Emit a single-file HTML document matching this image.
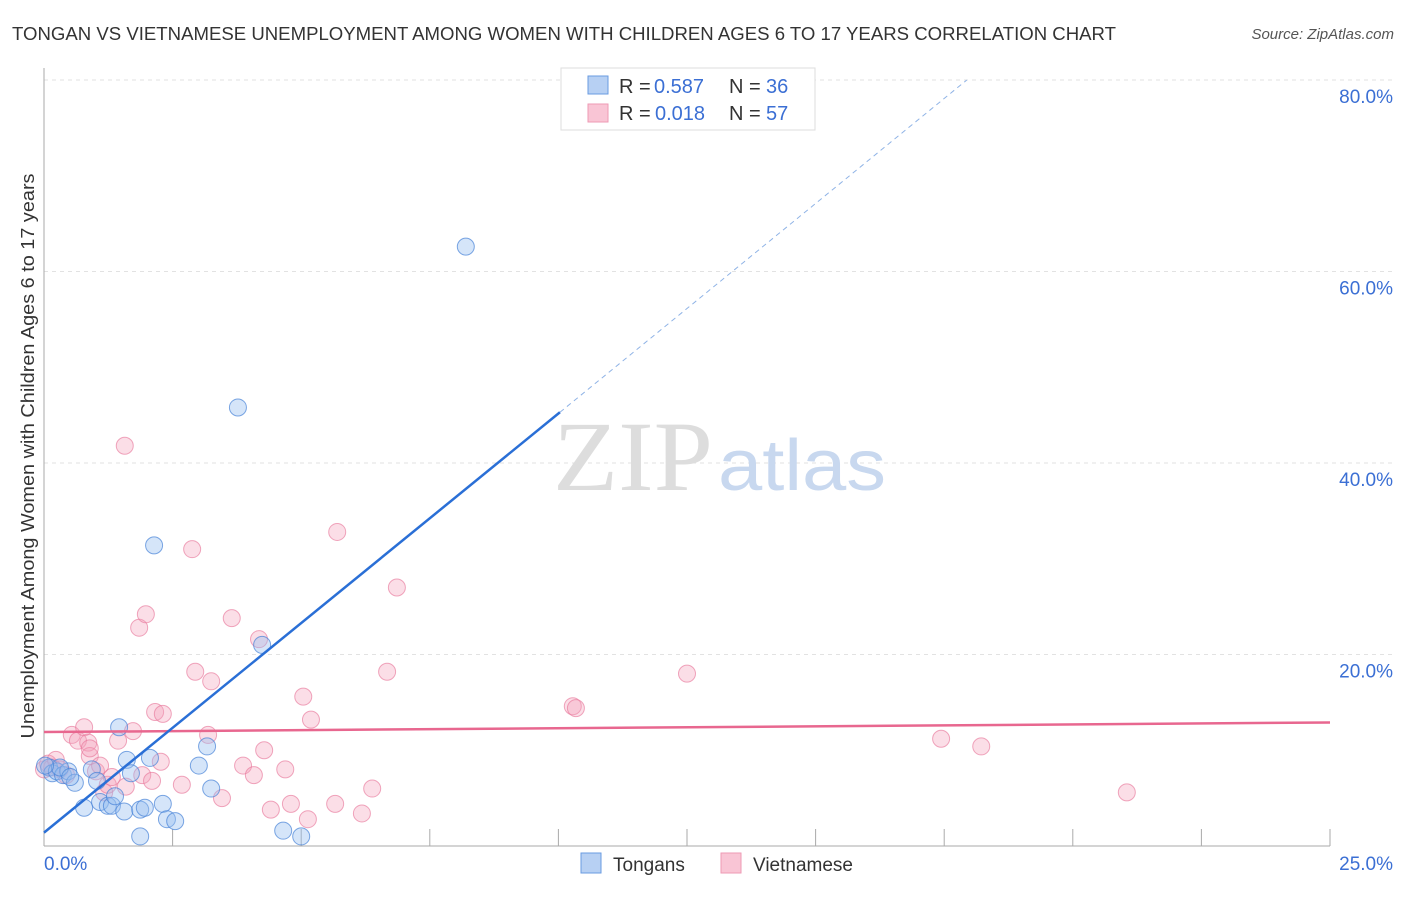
<!DOCTYPE html>
<html><head><meta charset="utf-8"><style>
body{margin:0;background:#fff;font-family:"Liberation Sans",sans-serif;}
svg text{font-family:"Liberation Sans",sans-serif;}
</style></head><body>
<svg id="chart" width="1406" height="892" xmlns="http://www.w3.org/2000/svg">
<text x="12" y="40" font-size="18" fill="#333" textLength="1104" lengthAdjust="spacingAndGlyphs">TONGAN VS VIETNAMESE UNEMPLOYMENT AMONG WOMEN WITH CHILDREN AGES 6 TO 17 YEARS CORRELATION CHART</text>
<text x="1394" y="39" font-size="15" fill="#555" text-anchor="end" font-style="italic">Source: ZipAtlas.com</text>
<text transform="translate(34,456) rotate(-90)" font-size="18" fill="#333" text-anchor="middle" textLength="565" lengthAdjust="spacingAndGlyphs">Unemployment Among Women with Children Ages 6 to 17 years</text>
<g id="grid"></g>
<text x="553" y="490" font-size="100" fill="#ddd" style="font-family:'Liberation Serif',serif" textLength="160" lengthAdjust="spacingAndGlyphs">ZIP</text>
<text x="718" y="490" font-size="72" fill="#c8d8ef" textLength="168" lengthAdjust="spacingAndGlyphs">atlas</text>
<g id="marks"></g>
<g>
<rect x="561" y="68" width="254" height="62" fill="#fff" stroke="#ddd"/>
<rect x="588" y="76" width="20" height="18" fill="#b7d0f3" stroke="#6a9be0"/>
<rect x="588" y="104" width="20" height="18" fill="#f9c5d5" stroke="#ee9ab4"/>
<text x="619" y="93" font-size="20" fill="#333">R =</text><text x="654" y="93" font-size="20" fill="#3b6fd4">0.587</text>
<text x="729" y="93" font-size="20" fill="#333">N =</text><text x="766" y="93" font-size="20" fill="#3b6fd4">36</text>
<text x="619" y="120" font-size="20" fill="#333">R =</text><text x="655" y="120" font-size="20" fill="#3b6fd4">0.018</text>
<text x="729" y="120" font-size="20" fill="#333">N =</text><text x="766" y="120" font-size="20" fill="#3b6fd4">57</text>
</g>
<g>
<rect x="581" y="853" width="20" height="20" fill="#b7d0f3" stroke="#6a9be0"/>
<text x="613" y="871" font-size="19" fill="#333">Tongans</text>
<rect x="721" y="853" width="20" height="20" fill="#f9c5d5" stroke="#ee9ab4"/>
<text x="753" y="871" font-size="19" fill="#333">Vietnamese</text>
</g>
</svg>
<script>
const yTicks=[20,40,60,80];
const yTickLabels=["20.0%","40.0%","60.0%","80.0%"];
const xTickLabels=["0.0%","25.0%"];
const tonganX=[0.10,0.16,0.25,0.37,0.47,0.60,0.78,0.93,1.03,1.09,1.24,1.32,1.38,1.46,1.56,1.61,1.69,1.87,1.87,1.96,2.06,2.14,2.31,2.39,2.55,3.01,3.17,3.25,3.77,4.24,4.65,5.00,8.20,0.31,0.02,0.51];
const tonganY=[8.2,7.6,7.8,7.4,7.8,6.6,4.0,8.0,6.8,4.6,4.2,4.2,5.2,12.4,3.6,9.0,7.6,1.0,3.8,4.0,9.2,31.4,4.4,2.8,2.6,8.4,10.4,6.0,45.8,21.0,1.6,1.0,62.6,8.2,8.4,7.2];
const vietX=[0,0.08,0.16,0.23,0.31,0.43,0.54,0.66,0.78,0.86,0.89,1.01,1.09,1.17,1.24,1.32,1.44,1.57,1.59,1.73,1.85,1.91,1.98,2.10,2.16,2.27,2.31,2.68,2.88,2.94,3.19,3.25,3.46,3.65,3.87,4.08,4.18,4.28,4.41,4.69,4.80,5.04,5.13,5.19,5.66,5.70,6.18,6.38,6.67,6.86,10.28,10.34,12.50,17.44,18.22,21.05,0.89];
const vietY=[8.0,8.6,8.2,9.0,8.0,7.4,11.6,11.0,12.4,10.8,9.4,7.8,8.4,5.6,6.4,7.2,11.0,41.8,6.2,12.0,22.8,7.4,24.2,6.8,14.0,8.8,13.8,6.4,31.0,18.2,11.6,17.2,5.0,23.8,8.4,7.4,21.6,10.0,3.8,8.0,4.4,15.6,2.8,13.2,4.4,32.8,3.4,6.0,18.2,27.0,14.6,14.4,18.0,11.2,10.4,5.6,10.2];
const blueTrend=[[0,1.4],[10.03,45.3]];
const blueDash=[[10.03,45.3],[17.94,80]];
const pinkTrend=[[0,11.9],[25,12.9]];
const X=v=>44+v*51.44, Y=v=>846-v*9.575;
const NS="http://www.w3.org/2000/svg";
const grid=document.getElementById('grid'), marks=document.getElementById('marks');
function mk(tag,at,parent){const e=document.createElementNS(NS,tag);for(const k in at)e.setAttribute(k,at[k]);parent.appendChild(e);return e;}
yTicks.forEach((t,i)=>{
  const l=mk('line',{x1:44,x2:1394,y1:Y(t),y2:Y(t),stroke:'#e2e2e2','stroke-dasharray':'4,4'},grid);
  
  
  const tx=mk('text',{x:1393,y:Y(t)+23,'font-size':19,fill:'#3b6fd4','text-anchor':'end'},grid);
  tx.textContent=yTickLabels[i];
  
  
});
const ya=mk('line',{x1:44,x2:44,y1:68,y2:846,stroke:'#aaa'},grid);


const xa=mk('line',{x1:44,x2:1330,y1:846,y2:846,stroke:'#aaa'},grid);


for(let i=1;i<=10;i++){
  const t=mk('line',{x1:X(i*2.5),x2:X(i*2.5),y1:829,y2:846,stroke:'#aaa'},grid);
  
  
}
[[0,'start'],[25,'end']].forEach((p,i)=>{
  const tx=mk('text',{x:i?1393:44,y:870,'font-size':19,fill:'#3b6fd4','text-anchor':p[1]},grid);
  tx.textContent=xTickLabels[i];
  
  
});
vietX.forEach((x,i)=>{
  const c=mk('circle',{cx:X(x),cy:Y(vietY[i]),r:8.5,fill:'rgba(244,160,185,0.35)',stroke:'rgba(232,120,155,0.65)','stroke-width':1},marks);
  
  
});
tonganX.forEach((x,i)=>{
  const c=mk('circle',{cx:X(x),cy:Y(tonganY[i]),r:8.5,fill:'rgba(150,190,240,0.4)',stroke:'rgba(70,130,215,0.7)','stroke-width':1},marks);
  
  
});
const pl=mk('line',{x1:X(pinkTrend[0][0]),y1:Y(pinkTrend[0][1]),x2:X(pinkTrend[1][0]),y2:Y(pinkTrend[1][1]),stroke:'#e8678f','stroke-width':2.5},marks);


const bl=mk('line',{x1:X(blueTrend[0][0]),y1:Y(blueTrend[0][1]),x2:X(blueTrend[1][0]),y2:Y(blueTrend[1][1]),stroke:'#2a6fd6','stroke-width':2.5},marks);


const bd=mk('line',{x1:X(blueDash[0][0]),y1:Y(blueDash[0][1]),x2:X(blueDash[1][0]),y2:Y(blueDash[1][1]),stroke:'#8fb3e6','stroke-width':1,'stroke-dasharray':'5,4'},marks);


</script>
</body></html>
